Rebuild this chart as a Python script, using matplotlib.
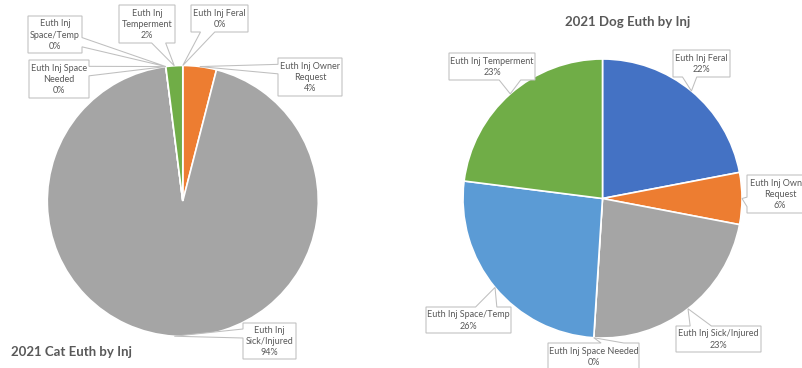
import numpy as np
import matplotlib
matplotlib.use("Agg")
import matplotlib.pyplot as plt
from matplotlib.patches import Polygon

# ---- data -------------------------------------------------------------
categories = ["Euth Inj Feral", "Euth Inj Owner Request", "Euth Inj Sick/Injured",
              "Euth Inj Space Needed", "Euth Inj Space/Temp", "Euth Inj Temperment"]
cat_pct = [0, 4, 94, 0, 0, 2]
dog_pct = [22, 6, 23, 0, 26, 23]
slice_colors = ["#4472C4", "#ED7D31", "#A5A5A5", "#FFC000", "#5B9BD5", "#70AD47"]

cat_label_text = ["Euth Inj Feral", "Euth Inj Owner\nRequest", "Euth Inj\nSick/Injured",
                  "Euth Inj Space\nNeeded", "Euth Inj\nSpace/Temp", "Euth Inj\nTemperment"]
dog_label_text = ["Euth Inj Feral", "Euth Inj Owner\nRequest", "Euth Inj Sick/Injured",
                  "Euth Inj Space Needed", "Euth Inj Space/Temp", "Euth Inj Temperment"]

# ---- layout (pixel units, y downward) ---------------------------------
W, H = 802, 368
cat_center, cat_radius = (182.8, 201.0), 135.5
dog_center, dog_radius = (602.5, 198.5), 139.5
# label boxes: left, top, width, height
cat_boxes = [(191, 5, 57, 27), (278, 58, 64, 38), (243, 323, 53, 36),
             (29, 60, 60, 38), (28, 16, 54, 37), (119, 5, 56, 38)]
dog_boxes = [(673, 50, 57, 27), (747, 175, 66, 38), (676, 326, 85, 26),
             (548, 343, 91, 27), (426, 307, 85, 26), (449, 53, 86, 27)]

TEXT = "#595959"
EDGE = "#BFBFBF"
FONT = ["Lato", "DejaVu Sans"]

fig = plt.figure(figsize=(W / 100, H / 100), dpi=100)
ax = fig.add_axes([0, 0, 1, 1])


def draw_pie(values, center, radius):
    # y axis points down, so counterclockwise in data = clockwise on screen
    ax.pie(values, colors=slice_colors, startangle=-90, counterclock=True,
           center=center, radius=radius, frame=True, normalize=True,
           wedgeprops=dict(edgecolor="white", linewidth=1.2))


def callout(text, box, tip, fs=6.5):
    x0, y0, w, h = box
    x1, y1 = x0 + w, y0 + h
    cx, cy = x0 + w / 2, y0 + h / 2
    tx, ty = tip
    dx, dy = (tx - cx) / w, (ty - cy) / h
    if abs(dx) > abs(dy):
        if ty > cy:
            b0, b1 = y0 + h * 7 / 12, y0 + h * 10 / 12
        else:
            b0, b1 = y0 + h * 2 / 12, y0 + h * 5 / 12
        if dx < 0:   # left side
            pts = [(x0, y0), (x1, y0), (x1, y1), (x0, y1), (x0, b1), (tx, ty), (x0, b0)]
        else:        # right side
            pts = [(x0, y0), (x1, y0), (x1, b0), (tx, ty), (x1, b1), (x1, y1), (x0, y1)]
    else:
        if tx > cx:
            b0, b1 = x0 + w * 7 / 12, x0 + w * 10 / 12
        else:
            b0, b1 = x0 + w * 2 / 12, x0 + w * 5 / 12
        if dy < 0:   # top side
            pts = [(x0, y0), (b0, y0), (tx, ty), (b1, y0), (x1, y0), (x1, y1), (x0, y1)]
        else:        # bottom side
            pts = [(x0, y0), (x1, y0), (x1, y1), (b1, y1), (tx, ty), (b0, y1), (x0, y1)]
    ax.add_patch(Polygon(pts, closed=True, facecolor="white", edgecolor=EDGE,
                         linewidth=0.75, zorder=5))
    ax.text(cx, cy + 0.5, text, ha="center", va="center", multialignment="center",
            fontsize=fs, color=TEXT, family=FONT, linespacing=1.3, zorder=6)


def label_pie(values, names, boxes, center, radius):
    frac = np.asarray(values, dtype=float) / np.sum(values)
    mids = np.cumsum(frac) - frac / 2
    for name, f, m, box in zip(names, frac, mids, boxes):
        a = 2 * np.pi * m
        tip = (center[0] + radius * np.sin(a), center[1] - radius * np.cos(a))
        callout(f"{name}\n{f * 100:.0f}%", box, tip)


draw_pie(cat_pct, cat_center, cat_radius)
draw_pie(dog_pct, dog_center, dog_radius)
label_pie(cat_pct, cat_label_text, cat_boxes, cat_center, cat_radius)
label_pie(dog_pct, dog_label_text, dog_boxes, dog_center, dog_radius)

ax.text(11, 352, "2021 Cat Euth by Inj", ha="left", va="center", fontsize=9.5,
        fontweight="bold", color=TEXT, family=FONT)
ax.text(627.5, 22, "2021 Dog Euth by Inj", ha="center", va="center", fontsize=9.5,
        fontweight="bold", color=TEXT, family=FONT)

ax.set_xlim(0, W)
ax.set_ylim(H, 0)
ax.set_aspect("equal")
ax.axis("off")

fig.savefig("out.png", dpi=100, facecolor="white")
